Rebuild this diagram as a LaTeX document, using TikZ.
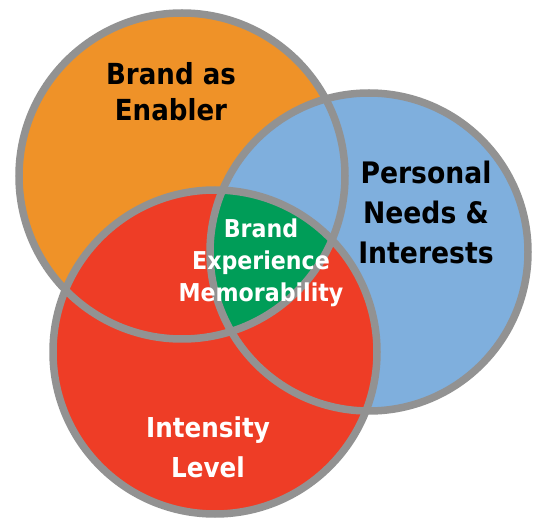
\documentclass[tikz,border=0pt]{standalone}
\usepackage{fontspec}
\setmainfont{DejaVu Sans}
\newfontfamily\labelfont{DejaVu Sans}[FakeStretch=0.9]
\definecolor{enablerorange}{RGB}{239,146,40}
\definecolor{needsblue}{RGB}{127,175,221}
\definecolor{intensityred}{RGB}{238,61,38}
\definecolor{coregreen}{RGB}{0,157,88}
\definecolor{rimgray}{RGB}{146,146,146}
\tikzset{
  rim/.style={draw=rimgray, line width=7.5pt},
  lbl/.style={align=center},
}
\begin{document}
\begin{tikzpicture}[x=1pt,y=-1pt]
  \useasboundingbox (0,0) rectangle (536,521);
  % circle centres and radii
  \coordinate (co) at (182,176);
  \coordinate (cb) at (369,252);
  \coordinate (cr) at (215,352);
  \def\ro{163pt}\def\rb{159pt}\def\rr{162pt}
  % fills, later ones cover earlier ones
  \fill[enablerorange] (co) circle[radius=\ro];
  \fill[needsblue] (cb) circle[radius=\rb];
  \fill[intensityred] (cr) circle[radius=\rr];
  % triple overlap
  \begin{scope}
    \clip (co) circle[radius=\ro];
    \clip (cb) circle[radius=\rb];
    \fill[coregreen] (cr) circle[radius=\rr];
  \end{scope}
  % outlines on top
  \draw[rim] (co) circle[radius=\ro];
  \draw[rim] (cb) circle[radius=\rb];
  \draw[rim] (cr) circle[radius=\rr];
  % labels
  \node[lbl, font=\labelfont\bfseries\fontsize{29}{36}\selectfont, text=black]
    (enabler) at (171,92) {Brand as\\Enabler};
  \node[lbl, font=\labelfont\bfseries\fontsize{29.6}{40}\selectfont, text=black]
    (needs) at (426,212) {Personal\\Needs \&\\Interests};
  \node[lbl, font=\labelfont\bfseries\fontsize{24.6}{32}\selectfont, text=white]
    (core) at (261,263) {Brand\\Experience\\Memorability};
  \node[lbl, font=\labelfont\bfseries\fontsize{27.4}{40}\selectfont, text=white]
    (intensity) at (208,447) {Intensity\\Level};
\end{tikzpicture}
\end{document}
